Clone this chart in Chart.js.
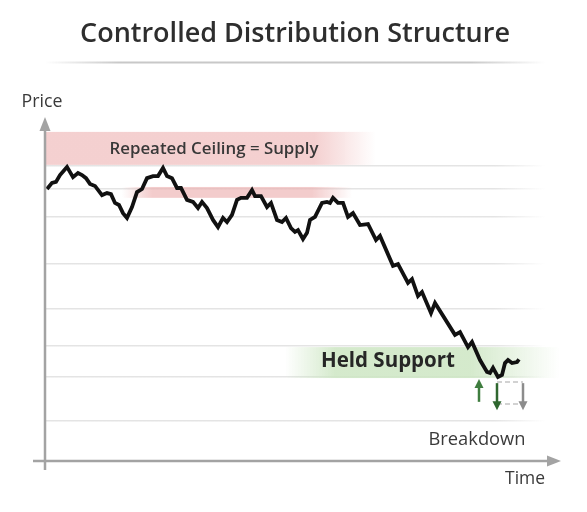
<!DOCTYPE html>
<html><head><meta charset="utf-8">
<script src="https://cdn.jsdelivr.net/npm/chart.js@4/dist/chart.umd.min.js"></script>
<style>html,body{margin:0;padding:0;background:#fff;}#wrap{width:587px;height:512px;position:relative}</style>
</head><body><div id="wrap"><canvas id="c" width="587" height="512"></canvas></div>
<script>
// ---- data ----
const time = [0.4,1.4,2.2,3.0,4.4,5.6,6.6,7.4,8.2,9.0,10.0,11.4,12.4,13.2,14.0,14.8,15.6,16.4,17.4,18.4,19.4,20.4,21.6,22.6,23.6,24.4,25.4,26.4,27.2,28.4,29.6,30.6,31.4,32.4,33.6,34.6,35.6,36.4,37.4,38.4,39.2,40.4,41.4,42.0,43.2,44.4,45.2,46.4,47.4,48.2,49.2,50.0,50.6,51.6,52.4,53.0,54.0,55.4,56.4,57.0,57.6,58.6,59.6,60.6,61.6,63.0,64.6,66.2,67.0,69.6,70.6,72.6,73.4,74.6,75.4,77.2,78.0,82.0,83.0,84.6,85.4,87.0,88.4,89.0,89.6,90.6,91.4,92.0,92.6,93.4,94.4,94.8];
const price = [80.0,81.8,82.1,84.1,86.5,83.5,84.7,84.1,83.2,81.5,80.9,78.2,78.8,78.5,75.9,75.3,72.9,71.5,74.7,79.1,80.0,83.2,83.8,83.8,86.2,83.8,83.2,80.3,80.3,76.8,76.2,74.4,76.2,74.4,70.9,68.8,71.5,70.3,72.4,76.8,77.4,77.4,79.7,77.9,77.9,74.7,75.9,70.9,70.3,71.5,68.5,67.4,67.9,65.3,67.1,70.9,71.8,75.9,76.2,75.9,77.4,75.9,75.9,71.8,72.9,69.4,69.7,65.0,66.2,57.4,57.9,52.4,53.5,48.5,49.7,43.5,46.5,37.1,37.9,33.5,35.0,29.7,26.2,25.9,27.4,24.7,25.3,28.8,29.7,28.8,29.1,29.9];
const gridPrices = [86.8,80.0,71.8,57.9,44.7,33.8,24.7,11.8];
const titleText = "Controlled Distribution Structure";
const supplyLabel = "Repeated Ceiling = Supply";
const supportLabel = "Held Support";
const breakdownLabel = "Breakdown";
const yAxisLabel = "Price";
const xAxisLabel = "Time";
// zones (data units)
const supplyZone = {t0:0, t1:66, p0:87.1, p1:96.8};
const ceilingZone = {t0:15.4, t1:61.4, p0:77.4, p1:80.6};
const supportZone = {t0:48, t1:103, p0:24.4, p1:33.5};
const upArrow = {t:86.8, from:17.4, to:24.1};
const downArrow = {t:90.4, from:22.9, to:14.9};
const grayArrow = {t:95.6, from:22.9, to:14.9};
const dashBox = {t0:90.4, t1:95.6, p0:16.8, p1:23.2};

function fitFont(ctx, text, weight, family, target){
  ctx.font = weight + ' 20px "' + family + '"';
  const w = ctx.measureText(text).width;
  const size = 20 * target / w;
  ctx.font = weight + ' ' + size.toFixed(2) + 'px "' + family + '"';
  return size;
}
function hBand(ctx, x0, x1, y0, y1, rgb, a, fadeL, fadeR){
  const g = ctx.createLinearGradient(x0,0,x1,0);
  const w = x1-x0;
  g.addColorStop(0, 'rgba('+rgb+','+(fadeL? 0 : a)+')');
  if (fadeL) g.addColorStop(Math.min(0.45, fadeL/w), 'rgba('+rgb+','+a+')');
  g.addColorStop(Math.max(0.55, 1-fadeR/w), 'rgba('+rgb+','+a+')');
  g.addColorStop(1, 'rgba('+rgb+',0)');
  ctx.fillStyle = g;
  ctx.fillRect(x0, y0, w, y1-y0);
}
function arrow(ctx, x, y0, y1, color){
  const dir = y1 < y0 ? -1 : 1;
  ctx.strokeStyle = color; ctx.fillStyle = color; ctx.lineWidth = 2.5;
  ctx.beginPath(); ctx.moveTo(x, y0); ctx.lineTo(x, y1 - dir*7); ctx.stroke();
  ctx.beginPath(); ctx.moveTo(x, y1); ctx.lineTo(x-4.5, y1 - dir*9); ctx.lineTo(x+4.5, y1 - dir*9); ctx.closePath(); ctx.fill();
}

const annot = {
  id:'annot',
  beforeDatasetsDraw(chart){
    const ctx = chart.ctx, X = chart.scales.x, Y = chart.scales.y;
    ctx.save();
    hBand(ctx, X.getPixelForValue(supplyZone.t0), X.getPixelForValue(supplyZone.t1), Y.getPixelForValue(supplyZone.p1), Y.getPixelForValue(supplyZone.p0), '240,190,190', 0.72, 0, 60);
    hBand(ctx, X.getPixelForValue(ceilingZone.t0), X.getPixelForValue(ceilingZone.t1), Y.getPixelForValue(ceilingZone.p1), Y.getPixelForValue(ceilingZone.p0), '235,170,170', 0.6, 30, 40);
    hBand(ctx, X.getPixelForValue(supportZone.t0), X.getPixelForValue(supportZone.t1), Y.getPixelForValue(supportZone.p1), Y.getPixelForValue(supportZone.p0), '205,230,195', 0.85, 50, 90);
    ctx.textAlign = 'center'; ctx.textBaseline = 'alphabetic';
    ctx.fillStyle = '#383838';
    fitFont(ctx, supplyLabel, '600', 'Open Sans', 209);
    ctx.fillText(supplyLabel, 214, 154);
    ctx.fillStyle = '#262626';
    fitFont(ctx, supportLabel, '700', 'Open Sans', 134);
    ctx.fillText(supportLabel, 388, 367);
    ctx.restore();
  },
  afterDatasetsDraw(chart){
    const ctx = chart.ctx, X = chart.scales.x, Y = chart.scales.y;
    const a = chart.chartArea;
    ctx.save();
    ctx.strokeStyle = '#c4c4c4'; ctx.lineWidth = 1.5; ctx.setLineDash([5,3]);
    const bx0 = X.getPixelForValue(dashBox.t0), bx1 = X.getPixelForValue(dashBox.t1);
    [dashBox.p1, dashBox.p0].forEach(p=>{ const y=Y.getPixelForValue(p); ctx.beginPath(); ctx.moveTo(bx0,y); ctx.lineTo(bx1,y); ctx.stroke(); });
    ctx.setLineDash([]);
    arrow(ctx, X.getPixelForValue(upArrow.t), Y.getPixelForValue(upArrow.from), Y.getPixelForValue(upArrow.to), '#3f7d3f');
    arrow(ctx, X.getPixelForValue(downArrow.t), Y.getPixelForValue(downArrow.from), Y.getPixelForValue(downArrow.to), '#2f672f');
    arrow(ctx, X.getPixelForValue(grayArrow.t), Y.getPixelForValue(grayArrow.from), Y.getPixelForValue(grayArrow.to), '#8c8c8c');
    ctx.strokeStyle = '#a3a3a3'; ctx.fillStyle = '#a3a3a3'; ctx.lineWidth = 2.5;
    const ax = a.left, ay = a.bottom;
    ctx.beginPath(); ctx.moveTo(ax, ay+9); ctx.lineTo(ax, 128); ctx.stroke();
    ctx.beginPath(); ctx.moveTo(ax, 117); ctx.lineTo(ax-5.5, 131); ctx.lineTo(ax+5.5, 131); ctx.closePath(); ctx.fill();
    ctx.beginPath(); ctx.moveTo(33, ay); ctx.lineTo(550, ay); ctx.stroke();
    ctx.beginPath(); ctx.moveTo(561, ay); ctx.lineTo(547, ay-5.5); ctx.lineTo(547, ay+5.5); ctx.closePath(); ctx.fill();
    ctx.textAlign = 'center'; ctx.textBaseline = 'alphabetic';
    ctx.fillStyle = '#2e2e2e';
    fitFont(ctx, titleText, '600', 'Open Sans', 430);
    ctx.fillText(titleText, 295, 42);
    const g = ctx.createLinearGradient(45,0,545,0);
    g.addColorStop(0,'rgba(200,200,200,0)'); g.addColorStop(0.15,'rgba(200,200,200,1)');
    g.addColorStop(0.85,'rgba(200,200,200,1)'); g.addColorStop(1,'rgba(200,200,200,0)');
    ctx.strokeStyle = g; ctx.lineWidth = 2;
    ctx.beginPath(); ctx.moveTo(45, 62.5); ctx.lineTo(545, 62.5); ctx.stroke();
    ctx.fillStyle = '#3a3a3a';
    fitFont(ctx, yAxisLabel, '400', 'Open Sans', 41);
    ctx.fillText(yAxisLabel, 42, 107);
    fitFont(ctx, xAxisLabel, '400', 'Open Sans', 40);
    ctx.fillText(xAxisLabel, 525, 484);
    fitFont(ctx, breakdownLabel, '400', 'Open Sans', 97);
    ctx.fillText(breakdownLabel, 477, 445);
    ctx.restore();
  }
};

new Chart(document.getElementById('c'), {
  type: 'line',
  data: { datasets: [{
    data: time.map((t,i)=>({x:t, y:price[i]})),
    borderColor: '#111111', borderWidth: 3.8, pointRadius: 0, tension: 0,
    borderJoinStyle: 'miter', fill: false
  }]},
  options: {
    responsive: false, animation: false, devicePixelRatio: 1,
    layout: { padding: { left: 45, right: 42, top: 121, bottom: 51 } },
    plugins: { legend: {display:false}, tooltip: {enabled:false}, title: {display:false} },
    scales: {
      x: { type:'linear', min:0, max:100, display:false },
      y: { type:'linear', min:0, max:100, display:true,
           afterBuildTicks: s => { s.ticks = gridPrices.map(v=>({value:v})); },
           ticks: { display:false },
           border: { display:false },
           grid: { drawTicks:false, lineWidth:1.5,
             color: c => { const ch=c.chart, ar=ch.chartArea; if(!ar) return '#e6e6e6';
               const g=ch.ctx.createLinearGradient(ar.left,0,ar.right,0);
               g.addColorStop(0,'rgba(228,228,228,1)'); g.addColorStop(0.9,'rgba(228,228,228,1)'); g.addColorStop(1,'rgba(228,228,228,0)'); return g; } } }
    }
  },
  plugins: [annot]
});
</script></body></html>
